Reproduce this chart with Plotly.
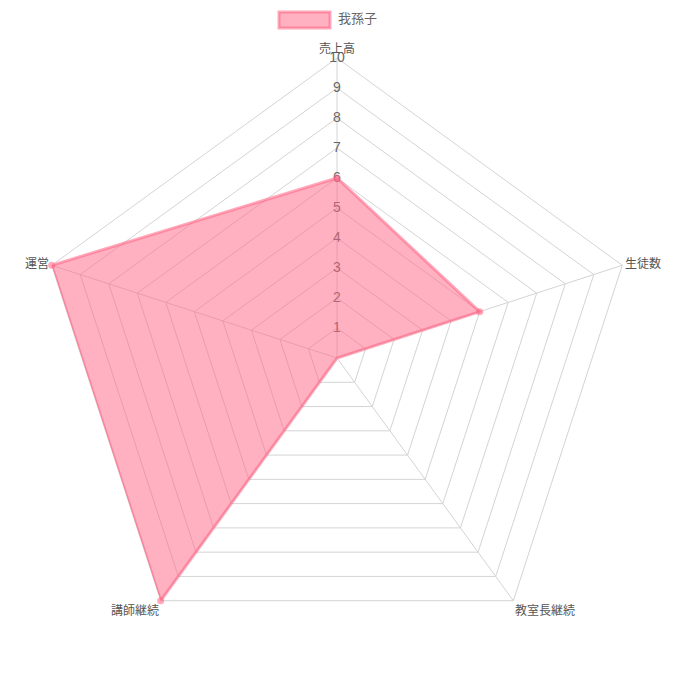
import plotly.graph_objects as go

categories = ["売上高", "生徒数", "教室長継続", "講師継続", "運営"]
values = [6, 5, 0, 10, 10]
series_name = "我孫子"
tick_values = [1, 2, 3, 4, 5, 6, 7, 8, 9, 10]
tick_labels = [str(v) for v in tick_values]

FONT = "Liberation Sans, Noto Sans CJK JP, sans-serif"
GRID = "#d4d4d4"
LINE = "rgba(255,99,132,0.55)"
FILL = "rgba(255,99,132,0.5)"
W = H = 675
OX, OY = 8, 8  # page body offset

r_closed = values + values[:1]
theta_closed = categories + categories[:1]

fig = go.Figure()

# radial tick labels drawn on the axis (under the fill)
fig.add_trace(go.Scatterpolar(
    r=tick_values, theta=[categories[0]] * len(tick_values),
    mode="text", text=tick_labels,
    textfont=dict(family=FONT, size=14, color="#666"),
    textposition="middle center",
    showlegend=False, hoverinfo="skip",
))

fig.add_trace(go.Scatterpolar(
    r=r_closed, theta=theta_closed,
    mode="lines", fill="toself",
    fillcolor=FILL, line=dict(color=LINE, width=3),
    name=series_name, showlegend=False,
))

fig.add_trace(go.Scatterpolar(
    r=values, theta=categories,
    mode="markers", marker=dict(color=LINE, size=7),
    showlegend=False, hoverinfo="skip",
))

# Chart.js-style legend box
fig.add_shape(type="rect", xref="paper", yref="paper",
              x0=(279-OX)/W, x1=(330-OX)/W, y0=1-(28-OY)/H, y1=1-(12-OY)/H,
              fillcolor=FILL, line=dict(color=LINE, width=3))
fig.add_annotation(xref="paper", yref="paper", x=(336-OX)/W, y=1-(19-OY)/H,
                   xanchor="left", yanchor="middle", showarrow=False,
                   text=series_name, font=dict(family=FONT, size=13, color="#666"))

dx, dy = -8, 7
fig.update_layout(
    width=W, height=H,
    margin=dict(l=0, r=0, t=0, b=0),
    paper_bgcolor="white",
    font=dict(family=FONT, color="#666", size=12),
    showlegend=False,
    polar=dict(
        domain=dict(x=[(37+dx)/W, (637+dx)/W], y=[(18+dy)/H, (618+dy)/H]),
        bgcolor="white",
        gridshape="linear",
        radialaxis=dict(range=[0, 10], tickvals=tick_values, showticklabels=False,
                        ticks="", showline=False, gridcolor=GRID, gridwidth=1,
                        layer="below traces", angle=90),
        angularaxis=dict(rotation=90, direction="clockwise", showline=True,
                         linecolor=GRID, linewidth=1, gridcolor=GRID, ticks="",
                         tickfont=dict(family=FONT, size=12, color="#555"),
                         layer="below traces"),
    ),
)

fig.write_html("out.html")
